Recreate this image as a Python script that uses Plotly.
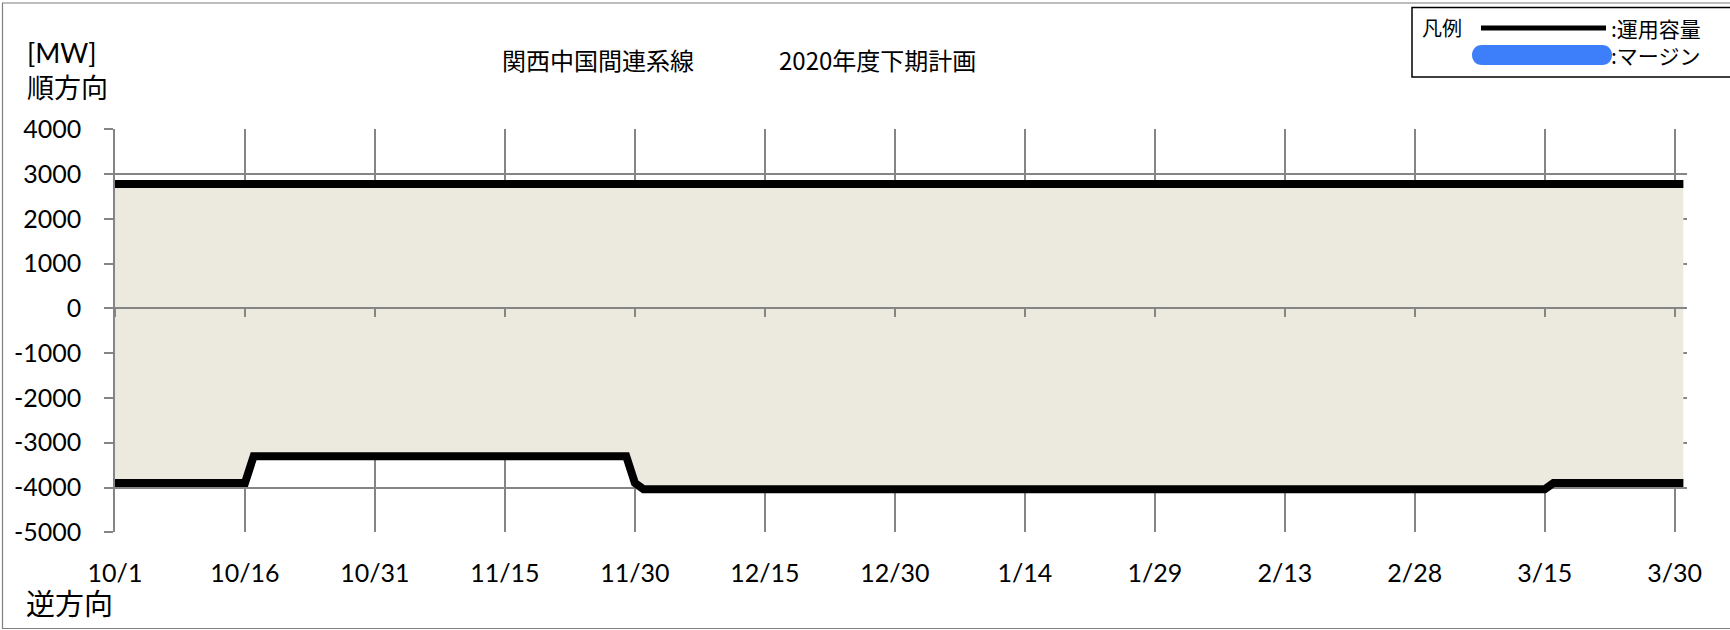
import plotly.graph_objects as go

# ---- data ----
upper_dates = ["2020-10-01", "2021-03-31"]
upper_vals = [2780, 2780]

lower_dates = ["2020-10-01", "2020-10-16", "2020-10-17", "2020-11-29",
               "2020-11-30", "2020-12-01", "2021-03-15", "2021-03-16", "2021-03-31"]
lower_vals = [-3900, -3900, -3300, -3300, -3900, -4040, -4040, -3900, -3900]

tick_dates = ["2020-10-01", "2020-10-16", "2020-10-31", "2020-11-15", "2020-11-30",
              "2020-12-15", "2020-12-30", "2021-01-14", "2021-01-29", "2021-02-13",
              "2021-02-28", "2021-03-15", "2021-03-30"]
tick_labels = ["10/1", "10/16", "10/31", "11/15", "11/30", "12/15", "12/30",
               "1/14", "1/29", "2/13", "2/28", "3/15", "3/30"]

y_ticks = [4000, 3000, 2000, 1000, 0, -1000, -2000, -3000, -4000, -5000]
y_tick_labels = ["4000", "3000", "2000", "1000", "0", "-1000", "-2000", "-3000", "-4000", "-5000"]

title_left = "関西中国間連系線"
title_right = "2020年度下期計画"
legend_names = [":運用容量", ":マージン"]

# ---- layout helpers ----
W, H = 1730, 630
def px(x):
    return x / W
def py(y):
    return 1 - y / H

X0, X1 = 115, 1687
Y_TOP, Y_BOT = 129.3, 532.3
YMIN, YMAX = -5000, 4000
xdom = [px(X0), px(X1)]
ydom = [py(Y_BOT), py(Y_TOP)]
zero_pos = ydom[0] + (0 - YMIN) / (YMAX - YMIN) * (ydom[1] - ydom[0])

GRID = "#858585"
FILL = "#ECE9DF"
NUM_FONT = "Lato"
JP_FONT = "Noto Sans CJK JP"
MIX_FONT = "Lato, Noto Sans CJK JP"
x_range = ["2020-10-01", "2021-03-31 10:00"]

fig = go.Figure()

# fill between the two capacity lines
fig.add_trace(go.Scatter(x=lower_dates, y=lower_vals, mode="lines",
                         line=dict(width=0, color=FILL), showlegend=False, hoverinfo="skip"))
fig.add_trace(go.Scatter(x=upper_dates, y=upper_vals, mode="lines", fill="tonexty",
                         fillcolor=FILL, line=dict(width=0, color=FILL),
                         showlegend=False, hoverinfo="skip"))
# capacity lines
fig.add_trace(go.Scatter(x=upper_dates, y=upper_vals, mode="lines", name=legend_names[0],
                         line=dict(width=8, color="black"), showlegend=False))
fig.add_trace(go.Scatter(x=lower_dates, y=lower_vals, mode="lines", name=legend_names[0],
                         line=dict(width=8, color="black"), showlegend=False))
# helper trace so the zero-crossing axis is drawn
fig.add_trace(go.Scatter(x=upper_dates, y=upper_vals, mode="lines", xaxis="x2",
                         line=dict(width=0), opacity=0, showlegend=False, hoverinfo="skip"))

fig.update_layout(
    template="none",
    width=W, height=H, autosize=False,
    margin=dict(l=0, r=0, t=0, b=0, pad=0),
    paper_bgcolor="white", plot_bgcolor="white",
    showlegend=False,
    xaxis=dict(
        domain=xdom, type="date", range=x_range, automargin=False,
        tickmode="array", tickvals=tick_dates, ticktext=tick_labels,
        showgrid=True, gridcolor=GRID, gridwidth=1.5,
        showline=False, zeroline=False, ticks="",
        ticklabelstandoff=24,
        tickfont=dict(family=NUM_FONT, size=25, color="black"),
    ),
    xaxis2=dict(
        domain=xdom, type="date", range=x_range, overlaying="x", automargin=False,
        anchor="free", position=zero_pos,
        tickmode="array", tickvals=tick_dates, showticklabels=False,
        showgrid=False, zeroline=False,
        showline=True, linecolor=GRID, linewidth=1.5,
        ticks="outside", ticklen=8, tickcolor=GRID, tickwidth=1.5,
        layer="above traces",
    ),
    yaxis=dict(
        domain=ydom, range=[YMIN, YMAX], automargin=False,
        tickmode="array", tickvals=y_ticks, ticktext=y_tick_labels,
        showgrid=True, gridcolor=GRID, gridwidth=1.5,
        zeroline=False,
        showline=True, linecolor=GRID, linewidth=1.5,
        ticks="outside", ticklen=9, tickcolor=GRID, tickwidth=1.5,
        ticklabelstandoff=18,
        tickfont=dict(family=NUM_FONT, size=25, color="black"),
        layer="above traces",
    ),
)

shapes = []
# outer chart border
shapes.append(dict(type="rect", xref="paper", yref="paper",
                   x0=px(2.5), x1=px(1760), y0=py(628.5), y1=py(3),
                   line=dict(color="#7f7f7f", width=1.2), fillcolor="rgba(0,0,0,0)"))
# legend box
shapes.append(dict(type="rect", xref="paper", yref="paper",
                   x0=px(1412), x1=px(1760), y0=py(77), y1=py(7.5),
                   line=dict(color="black", width=1.5), fillcolor="white"))
# legend black line
shapes.append(dict(type="line", xref="paper", yref="paper",
                   x0=px(1481), x1=px(1606), y0=py(28), y1=py(28),
                   line=dict(color="black", width=5)))
# legend blue rounded bar
bx0, bx1, byc, r = 1472, 1612, 55, 10
k = 4.0 / 3.0 * r
path = (f"M {px(bx0 + r)} {py(byc - r)} L {px(bx1 - r)} {py(byc - r)} "
        f"C {px(bx1 - r + k)} {py(byc - r)} {px(bx1 - r + k)} {py(byc + r)} {px(bx1 - r)} {py(byc + r)} "
        f"L {px(bx0 + r)} {py(byc + r)} "
        f"C {px(bx0 + r - k)} {py(byc + r)} {px(bx0 + r - k)} {py(byc - r)} {px(bx0 + r)} {py(byc - r)} Z")
shapes.append(dict(type="path", xref="paper", yref="paper", path=path,
                   fillcolor="#3D7EFA", line=dict(width=0)))
fig.update_layout(shapes=shapes)

def ann(text, x, y, size, family=JP_FONT, xanchor="left", align="left"):
    return dict(text=text, x=px(x), y=py(y), xref="paper", yref="paper",
                xanchor=xanchor, yanchor="middle", showarrow=False, align=align,
                font=dict(family=family, size=size, color="black"))

annotations = [
    ann("[MW]<br>順方向", 25, 70, 27, family=MIX_FONT),
    ann("逆方向", 24, 602, 29),
    ann(title_left, 598, 59, 24, xanchor="center"),
    ann(title_right, 877, 59, 24, xanchor="center"),
    ann("凡例", 1420, 28, 20),
    ann(legend_names[0], 1609, 28, 21),
    ann(legend_names[1], 1609, 55, 21),
]
fig.update_layout(annotations=annotations)

fig.write_html("out.html", config={"displayModeBar": False},
               post_script="document.body.style.margin='0';")
